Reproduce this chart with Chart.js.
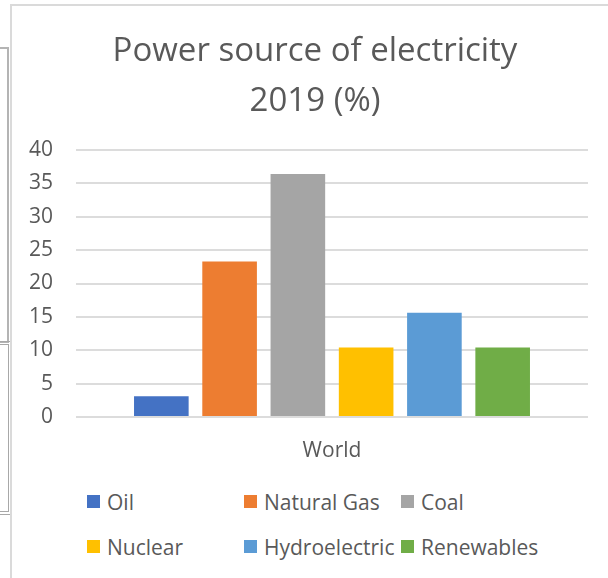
<!DOCTYPE html>
<html>
<head>
<meta charset="utf-8">
<title>Power source of electricity 2019</title>
<script src="https://cdn.jsdelivr.net/npm/chart.js@4.4.1/dist/chart.umd.min.js"></script>
<style>
    html, body { margin: 0; padding: 0; background: #fff; overflow: hidden; width: 608px; height: 578px; }
    /* window edges peeking in on the left */
    .edge-top { position: absolute; left: -10px; top: 47px; width: 15px; height: 292px; border: 2px solid #b4b4b4; }
    .edge-bottom { position: absolute; left: -10px; top: 341px; width: 14px; height: 166px; border: 4px double #a8a8a8; }
    #frame {
        position: absolute; left: 10px; top: 4px; width: 640px; height: 620px;
        border-left: 2px solid #dadada; border-top: 2px solid #dadada; background: #fff;
    }
    #chartBox { position: absolute; left: 0; top: 0; width: 606px; height: 462px; }
    #legend {
        position: absolute; left: 75px; top: 473px;
        display: grid; grid-template-columns: 157px 157px 157px; grid-auto-rows: 45px;
        font-family: 'Open Sans', sans-serif; font-size: 21px; color: #595959;
    }
    #legend .item { display: flex; align-items: center; white-space: nowrap; }
    #legend .swatch { width: 13px; height: 13px; margin-right: 7px; flex: none; }
</style>
</head>
<body>
<div class="edge-top"></div>
<div class="edge-bottom"></div>
<div id="frame">
    <div id="chartBox"><canvas id="powerChart"></canvas></div>
    <div id="legend"></div>
</div>
<script>
// Data
const categories = ['World'];
const sources = ['Oil', 'Natural Gas', 'Coal', 'Nuclear', 'Hydroelectric', 'Renewables'];
const shares = [3.1, 23.3, 36.4, 10.4, 15.6, 10.4]; // % of world electricity
const colors = ['#4472C4', '#ED7D31', '#A5A5A5', '#FFC000', '#5B9BD5', '#70AD47'];
const yMin = 0;
const yMax = 40;
const yStep = 5;

Chart.defaults.font.family = "'Open Sans', sans-serif";
Chart.defaults.color = '#595959';

// one dataset per source so each gets its own bar in the group
const datasets = sources.map(function (name, i) {
    return {
        label: name,
        data: [shares[i]],
        backgroundColor: colors[i],
        borderWidth: 0,
        barPercentage: 0.8,
        categoryPercentage: 0.8
    };
});

// y tick labels hang out to the left of the (narrow) axis box, don't clip them
const looseYLabels = {
    id: 'looseYLabels',
    afterLayout: function (chart) {
        chart.scales.y.left = 0;
    }
};

const ctxPower = document.getElementById('powerChart');
new Chart(ctxPower, {
    type: 'bar',
    data: {
        labels: categories,
        datasets: datasets
    },
    plugins: [looseYLabels],
    options: {
        responsive: true,
        maintainAspectRatio: false,
        animation: false,
        layout: {
            padding: { left: 30, right: 30, top: 0, bottom: 0 }
        },
        plugins: {
            legend: { display: false },
            tooltip: { enabled: false },
            title: {
                display: true,
                text: ['Power source of electricity', '2019 (%)'],
                color: '#595959',
                font: { size: 33, weight: 'normal', lineHeight: 1.5 },
                padding: { top: 21, bottom: 24 }
            }
        },
        scales: {
            x: {
                grid: { display: false },
                border: { display: false },
                ticks: { font: { size: 21 }, padding: 13 },
                // padding is counted twice by default, keep the axis tight
                afterFit: function (scale) { scale.height = 51; }
            },
            y: {
                min: yMin,
                max: yMax,
                grid: { color: '#dcdcdc', lineWidth: 2, drawTicks: false },
                border: { display: false },
                ticks: { stepSize: yStep, font: { size: 21 }, padding: 23 },
                afterFit: function (scale) { scale.width = 34; }
            }
        }
    }
});

// Legend laid out in three fixed columns
const legendBox = document.getElementById('legend');
sources.forEach(function (name, i) {
    const item = document.createElement('div');
    item.className = 'item';
    const swatch = document.createElement('span');
    swatch.className = 'swatch';
    swatch.style.background = colors[i];
    const label = document.createElement('span');
    label.textContent = name;
    item.appendChild(swatch);
    item.appendChild(label);
    legendBox.appendChild(item);
});
</script>
</body>
</html>
